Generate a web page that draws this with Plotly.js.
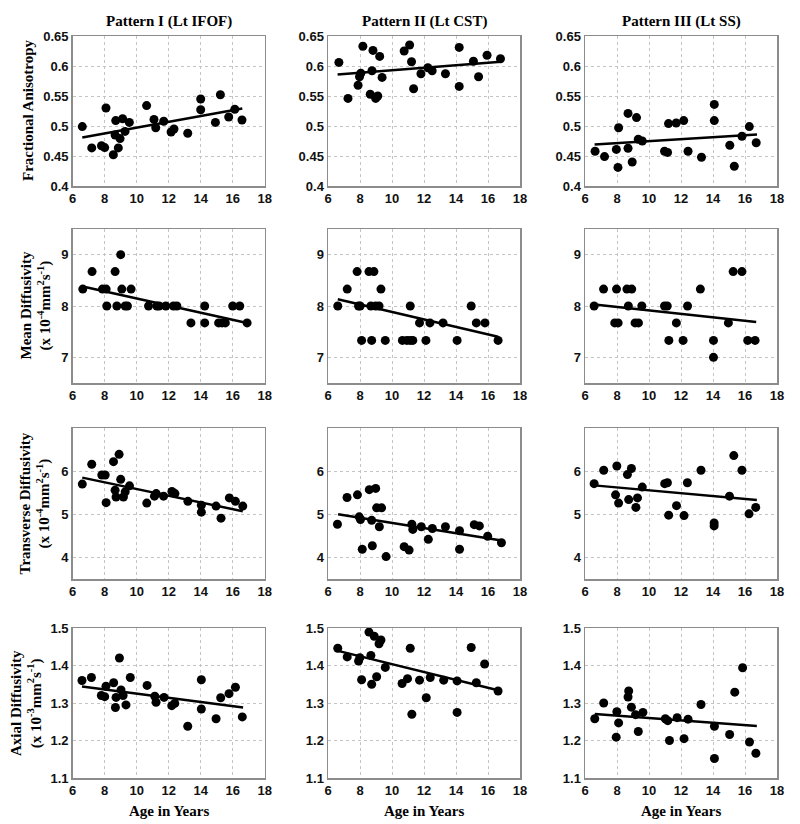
<!DOCTYPE html>
<html>
<head>
<meta charset="utf-8">
<script src="https://cdn.plot.ly/plotly-3.0.1.min.js"></script>
<style>html,body{margin:0;padding:0;background:#fff;}#chart{width:800px;height:824px;}</style>
</head>
<body>
<div id="chart"></div>
<script>
// ---- Column / row labels ----
const columnTitles = ["Pattern I (Lt IFOF)", "Pattern II (Lt CST)", "Pattern III (Lt SS)"];
const rowTitles = [
  ["Fractional Anisotropy"],
  ["Mean Diffusivity", "(x 10<sup>-4</sup>mm<sup>2</sup>s<sup>-1</sup>)"],
  ["Transverse Diffusivity", "(x 10<sup>-4</sup>mm<sup>2</sup>s<sup>-1</sup>)"],
  ["Axial Diffusivity", "(x 10<sup>-3</sup>mm<sup>2</sup>s<sup>-1</sup>)"]
];
const xTitle = "Age in Years";
const xTicks = [6, 8, 10, 12, 14, 16, 18];
const yTicksFA = [0.4, 0.45, 0.5, 0.55, 0.6, 0.65];
const yTicksMD = [7, 8, 9];
const yTicksTD = [4, 5, 6];
const yTicksAD = [1.1, 1.2, 1.3, 1.4, 1.5];

// ---- Row 1: Fractional Anisotropy ----
const ageFA1 = [6.6,7.19,7.8,8.0,8.08,8.54,8.69,8.65,8.85,8.96,9.12,9.27,9.54,10.62,11.08,11.19,11.69,12.15,12.33,13.19,14.0,14.0,14.92,15.23,15.75,16.13,16.58];
const fa1    = [0.499,0.4635,0.467,0.464,0.530,0.452,0.509,0.485,0.4635,0.479,0.512,0.491,0.506,0.534,0.511,0.497,0.508,0.490,0.495,0.488,0.545,0.527,0.506,0.552,0.515,0.528,0.510];
const fitFA1 = {x:[6.6,16.6], y:[0.481,0.529]};

const ageFA2 = [6.68,7.25,7.88,7.97,8.05,8.18,8.64,8.75,8.81,8.98,9.11,9.23,9.38,10.76,11.1,11.22,11.35,11.81,12.24,12.51,13.34,14.2,14.2,15.09,15.41,15.94,16.78];
const fa2    = [0.606,0.546,0.568,0.582,0.588,0.633,0.553,0.592,0.626,0.546,0.550,0.616,0.581,0.625,0.635,0.607,0.562,0.587,0.597,0.592,0.587,0.631,0.566,0.608,0.582,0.618,0.612];
const fitFA2 = {x:[6.6,16.8], y:[0.586,0.607]};

const ageFA3 = [6.63,7.22,7.96,8.06,8.1,8.69,8.69,8.95,9.22,9.33,9.58,10.97,11.16,11.22,11.7,12.17,12.44,13.28,14.08,14.08,15.05,15.33,15.81,16.27,16.7];
const fa3    = [0.458,0.449,0.461,0.431,0.497,0.521,0.463,0.440,0.514,0.478,0.475,0.458,0.456,0.504,0.505,0.509,0.458,0.448,0.536,0.509,0.468,0.433,0.483,0.499,0.472];
const fitFA3 = {x:[6.6,16.75], y:[0.469,0.486]};

// ---- Row 2: Mean Diffusivity ----
const ageMD1 = [6.63,7.21,7.86,8.09,8.13,8.65,8.76,9.0,9.07,9.28,9.42,9.65,10.74,11.26,11.4,11.82,12.3,12.51,13.39,14.25,14.25,15.12,15.33,15.54,16.0,16.44,16.9];
const md1    = [8.33,8.67,8.33,8.33,8.0,8.67,8.0,9.0,8.33,8.0,8.0,8.33,8.0,8.0,8.0,8.0,8.0,8.0,7.67,8.0,7.67,7.67,7.67,7.67,8.0,8.0,7.67];
const fitMD1 = {x:[6.63,16.9], y:[8.38,7.67]};

const ageMD2 = [6.61,7.2,7.82,7.91,8.01,8.1,8.56,8.73,8.68,8.87,8.98,9.19,9.31,9.58,10.65,10.93,11.14,11.14,11.3,11.72,12.12,12.37,13.19,14.07,14.95,15.27,15.81,16.63];
const md2    = [8.0,8.33,8.67,8.0,8.0,7.33,8.67,7.33,8.0,8.67,8.0,8.0,8.33,7.33,7.33,7.33,8.0,7.33,7.33,7.67,7.33,7.67,7.67,7.33,8.0,7.67,7.67,7.33];
const fitMD2 = {x:[6.61,16.63], y:[8.13,7.40]};

const ageMD3 = [6.57,7.16,7.97,7.86,8.07,8.62,8.92,8.71,9.13,9.34,9.55,10.97,11.14,11.24,11.71,12.13,12.41,13.21,14.03,14.03,14.96,15.26,15.81,16.17,16.63];
const md3    = [8.0,8.33,8.33,7.67,7.67,8.33,8.33,8.0,7.67,7.67,8.0,8.0,8.0,7.33,7.67,7.33,8.0,8.33,7.33,7.0,7.67,8.67,8.67,7.33,7.33];
const fitMD3 = {x:[6.59,16.7], y:[8.03,7.69]};

// ---- Row 3: Transverse Diffusivity ----
const ageTD1 = [6.6,7.19,7.82,8.03,8.09,8.55,8.65,8.71,8.9,9.0,9.17,9.28,9.55,10.63,11.11,11.22,11.68,12.2,12.39,13.2,14.04,14.04,14.96,15.27,15.79,16.17,16.63];
const td1    = [5.70,6.16,5.91,5.91,5.27,6.22,5.56,5.40,6.39,5.81,5.40,5.52,5.66,5.26,5.42,5.48,5.42,5.53,5.48,5.30,5.21,5.05,5.19,4.91,5.38,5.30,5.19];
const fitTD1 = {x:[6.6,16.63], y:[5.85,5.07]};

const ageTD2 = [6.59,7.19,7.84,7.95,8.03,8.14,8.58,8.77,8.73,8.98,9.04,9.35,9.21,9.63,10.76,11.07,11.24,11.3,11.83,12.27,12.52,13.34,14.22,14.22,15.14,15.46,15.98,16.84];
const td2    = [4.77,5.39,5.45,4.94,4.88,4.19,5.57,4.27,4.86,5.60,5.15,5.15,4.71,4.02,4.25,4.17,4.77,4.65,4.71,4.42,4.67,4.71,4.62,4.19,4.76,4.73,4.49,4.34];
const fitTD2 = {x:[6.63,16.84], y:[5.0,4.39]};

const ageTD3 = [6.57,7.17,7.91,7.99,8.1,8.65,8.9,8.73,9.18,9.28,9.58,10.98,11.15,11.23,11.72,12.19,12.4,13.25,14.07,14.07,15.03,15.3,15.81,16.25,16.67];
const td3    = [5.71,6.02,5.45,6.12,5.26,5.92,6.06,5.34,5.16,5.38,5.63,5.71,5.73,4.98,5.20,4.97,5.73,6.02,4.80,4.73,5.42,6.36,6.02,5.01,5.16];
const fitTD3 = {x:[6.57,16.74], y:[5.67,5.33]};

// ---- Row 4: Axial Diffusivity ----
const ageAD1 = [6.58,7.17,7.79,8.0,8.08,8.56,8.67,8.71,8.92,9.02,9.15,9.33,9.6,10.65,11.13,11.21,11.71,12.19,12.38,13.19,14.04,14.04,14.96,15.25,15.77,16.17,16.6];
const ad1    = [1.360,1.368,1.320,1.317,1.345,1.354,1.288,1.315,1.420,1.335,1.320,1.295,1.368,1.347,1.318,1.302,1.315,1.293,1.299,1.238,1.362,1.284,1.258,1.314,1.325,1.342,1.263];
const fitAD1 = {x:[6.58,16.65], y:[1.344,1.288]};

const ageAD2 = [6.61,7.2,7.91,7.99,8.1,8.56,8.68,8.73,8.89,9.04,9.19,9.31,9.58,10.63,10.97,11.14,11.24,11.72,12.14,12.39,13.23,14.07,14.07,14.95,15.27,15.79,16.63];
const ad2    = [1.446,1.423,1.412,1.421,1.362,1.489,1.427,1.350,1.478,1.370,1.458,1.468,1.395,1.352,1.365,1.446,1.270,1.361,1.314,1.368,1.361,1.359,1.275,1.448,1.354,1.404,1.332];
const fitAD2 = {x:[6.63,16.63], y:[1.439,1.334]};

const ageAD3 = [6.61,7.17,7.99,7.95,8.1,8.69,8.73,8.9,9.16,9.33,9.62,11.02,11.17,11.28,11.76,12.19,12.44,13.25,14.09,14.09,15.04,15.36,15.85,16.28,16.68];
const ad3    = [1.258,1.300,1.277,1.209,1.247,1.316,1.332,1.289,1.269,1.224,1.275,1.258,1.253,1.200,1.261,1.205,1.257,1.296,1.238,1.152,1.216,1.329,1.394,1.196,1.166];
const fitAD3 = {x:[6.61,16.74], y:[1.271,1.239]};

// ---- Assemble panels ----
const panels = [
  [ageFA1, fa1, fitFA1], [ageFA2, fa2, fitFA2], [ageFA3, fa3, fitFA3],
  [ageMD1, md1, fitMD1], [ageMD2, md2, fitMD2], [ageMD3, md3, fitMD3],
  [ageTD1, td1, fitTD1], [ageTD2, td2, fitTD2], [ageTD3, td3, fitTD3],
  [ageAD1, ad1, fitAD1], [ageAD2, ad2, fitAD2], [ageAD3, ad3, fitAD3]
];
const rowRanges = [[0.4, 0.65], [6.5, 9.5], [3.5, 7], [1.1, 1.5]];
const rowTicks = [yTicksFA, yTicksMD, yTicksTD, yTicksAD];
const rowTickText = [
  ["0.4","0.45","0.5","0.55","0.6","0.65"],
  ["7","8","9"],
  ["4","5","6"],
  ["1.1","1.2","1.3","1.4","1.5"]
];

const W = 800, H = 824;
const colPx = [[72.7, 264.7], [328, 520], [585, 777]];
const rowPx = [[36, 186], [229, 383], [428, 579], [628, 778]];

const tickFont = {family: "Liberation Sans, Arial, sans-serif", size: 13, color: "#111", weight: "bold"};
const serif = "Liberation Serif, Times New Roman, serif";

const traces = [];
const layout = {
  width: W, height: H,
  margin: {l: 0, r: 0, t: 0, b: 0},
  paper_bgcolor: "#fff", plot_bgcolor: "#fff",
  showlegend: false,
  annotations: []
};

panels.forEach((p, i) => {
  const r = Math.floor(i / 3), c = i % 3, n = i + 1;
  const xa = "x" + (n === 1 ? "" : n), ya = "y" + (n === 1 ? "" : n);
  const xk = "xaxis" + (n === 1 ? "" : n), yk = "yaxis" + (n === 1 ? "" : n);
  traces.push({
    type: "scatter", mode: "markers", x: p[0], y: p[1], xaxis: xa, yaxis: ya,
    marker: {color: "#000", size: 9}, cliponaxis: false
  });
  traces.push({
    type: "scatter", mode: "lines", x: p[2].x, y: p[2].y, xaxis: xa, yaxis: ya,
    line: {color: "#000", width: 2.5}
  });
  layout[xk] = {
    domain: [colPx[c][0] / W, colPx[c][1] / W],
    anchor: ya, range: [6, 18], tickvals: xTicks,
    showgrid: true, gridcolor: "#c4c4c4", griddash: "dot", gridwidth: 1,
    showline: true, mirror: true, linecolor: "#8c8c8c", linewidth: 1.5,
    ticks: "", zeroline: false, tickfont: tickFont, fixedrange: true
  };
  layout[yk] = {
    domain: [1 - rowPx[r][1] / H, 1 - rowPx[r][0] / H],
    anchor: xa, range: rowRanges[r], tickvals: rowTicks[r], ticktext: rowTickText[r],
    showgrid: true, gridcolor: "#c4c4c4", griddash: "dot", gridwidth: 1,
    showline: true, mirror: true, linecolor: "#8c8c8c", linewidth: 1.5,
    ticks: "", zeroline: false, tickfont: tickFont, fixedrange: true
  };
});

// Column titles
columnTitles.forEach((t, c) => {
  layout.annotations.push({
    xref: "paper", yref: "paper", x: (colPx[c][0] + colPx[c][1]) / 2 / W, y: 1 - 21 / H,
    text: "<b>" + t + "</b>", showarrow: false, xanchor: "center", yanchor: "middle",
    font: {family: serif, size: 15, color: "#000"}
  });
  layout.annotations.push({
    xref: "paper", yref: "paper", x: (colPx[c][0] + colPx[c][1]) / 2 / W, y: 1 - 811 / H,
    text: "<b>" + xTitle + "</b>", showarrow: false, xanchor: "center", yanchor: "middle",
    font: {family: serif, size: 15, color: "#000"}
  });
});
// Row titles (vertical)
const rowTitleX = [28, 36.5, 35, 26];
rowTitles.forEach((lines, r) => {
  layout.annotations.push({
    xref: "paper", yref: "paper", x: rowTitleX[r] / W, y: 1 - (rowPx[r][0] + rowPx[r][1]) / 2 / H,
    text: lines.map(s => "<b>" + s + "</b>").join("<br>"), showarrow: false,
    textangle: -90, xanchor: "center", yanchor: "middle",
    font: {family: serif, size: 15, color: "#000"}
  });
});

Plotly.newPlot("chart", traces, layout, {staticPlot: true, displayModeBar: false});
</script>
</body>
</html>
